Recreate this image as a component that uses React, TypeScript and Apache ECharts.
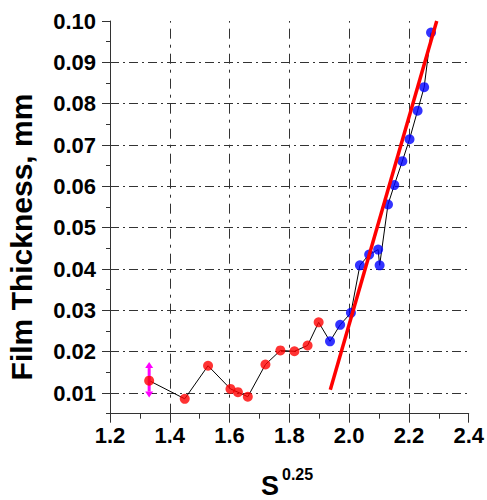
import React, { useEffect, useRef } from 'react';
import * as echarts from 'echarts';

const redX = [1.331, 1.45, 1.528, 1.603, 1.628, 1.661, 1.72, 1.77, 1.817, 1.861, 1.898];
const redY = [0.013, 0.0086, 0.0166, 0.011, 0.0102, 0.0091, 0.0169, 0.0203, 0.0201, 0.0215, 0.0271];
const blueX = [1.936, 1.97, 2.006, 2.036, 2.067, 2.097, 2.102, 2.13, 2.151, 2.178, 2.202, 2.229, 2.251, 2.274];
const blueY = [0.0225, 0.0265, 0.0294, 0.0409, 0.0435, 0.0447, 0.0409, 0.0556, 0.0603, 0.0661, 0.0714, 0.0783, 0.084, 0.0972];
const fitX = [1.937, 2.293];
const fitY = [0.0108, 0.1];
const errX = [1.331];
const errLow = [0.0089];
const errHigh = [0.0175];
const xGridVals = [1.4, 1.6, 1.8, 2.0, 2.2];
const yGridVals = [0.01, 0.02, 0.03, 0.04, 0.05, 0.06, 0.07, 0.08, 0.09];
const yLabelVals = [0.01, 0.02, 0.03, 0.04, 0.05, 0.06, 0.07, 0.08, 0.09, 0.1];

const FONT = 'Liberation Sans';
const AXIS_COLOR = '#333';

export default function App() {
  const ref = useRef<HTMLDivElement>(null);
  useEffect(() => {
    if (!ref.current) return;
    const chart = echarts.init(ref.current, null, { renderer: 'svg' });
    const allPts = [
      ...redX.map((x, i) => [x, redY[i]]),
      ...blueX.map((x, i) => [x, blueY[i]]),
    ];
    const gridLines = [
      ...yGridVals.map((v) => ({
        yAxis: v,
        lineStyle: { color: '#333', width: 1, type: [9, 4, 2, 4] },
      })),
      ...xGridVals.map((v) => ({
        xAxis: v,
        lineStyle: { color: '#333', width: 1, type: [10, 6, 3, 6] },
      })),
    ];
    const labelStyle = {
      fontFamily: FONT,
      fontWeight: 'bold',
      fontSize: 22,
      color: '#000',
    };
    chart.setOption({
      animation: false,
      backgroundColor: '#fff',
      grid: { left: 110, top: 21, right: 17, bottom: 86.3, containLabel: false },
      xAxis: {
        type: 'value',
        min: 1.2,
        max: 2.4,
        interval: 0.2,
        axisLine: { show: true, onZero: false, lineStyle: { color: AXIS_COLOR, width: 1 } },
        axisTick: { show: true, length: 9, lineStyle: { color: AXIS_COLOR } },
        minorTick: { show: true, splitNumber: 2, length: 5, lineStyle: { color: AXIS_COLOR } },
        axisLabel: { ...labelStyle, margin: 11, formatter: (v: number) => v.toFixed(1) },
        splitLine: { show: false },
      },
      yAxis: [
        {
          type: 'value',
          min: 0.005,
          max: 0.1,
          interval: 0.005,
          position: 'left',
          axisLine: { show: true, onZero: false, lineStyle: { color: AXIS_COLOR, width: 1 } },
          axisTick: { show: true, length: 4, lineStyle: { color: AXIS_COLOR } },
          axisLabel: { show: false },
          splitLine: { show: false },
        },
        {
          type: 'value',
          min: 0.005,
          max: 0.1,
          interval: 0.005,
          position: 'left',
          axisLine: { show: false, onZero: false },
          axisTick: { show: true, length: 8, customValues: yLabelVals, lineStyle: { color: AXIS_COLOR } },
          axisLabel: {
            ...labelStyle,
            margin: 14,
            customValues: yLabelVals,
            formatter: (v: number) => (Math.abs(Math.round(v * 1000) % 10) === 0 ? v.toFixed(2) : ''),
          },
          splitLine: { show: false },
        },
      ],
      graphic: [
        {
          type: 'text',
          x: 21,
          y: 237,
          rotation: Math.PI / 2,
          style: {
            text: 'Film Thickness, mm',
            fontFamily: FONT,
            fontWeight: 'bold',
            fontSize: 30,
            fill: '#000',
            align: 'center',
            verticalAlign: 'middle',
          },
        },
        {
          type: 'text',
          x: 261,
          y: 486,
          style: {
            text: 'S',
            fontFamily: FONT,
            fontWeight: 'bold',
            fontSize: 27,
            fill: '#000',
            align: 'left',
            verticalAlign: 'middle',
          },
        },
        {
          type: 'text',
          x: 282,
          y: 474,
          style: {
            text: '0.25',
            fontFamily: FONT,
            fontWeight: 'bold',
            fontSize: 16,
            fill: '#000',
            align: 'left',
            verticalAlign: 'middle',
          },
        },
      ],
      series: [
        {
          type: 'line',
          data: allPts,
          yAxisIndex: 0,
          symbol: 'none',
          lineStyle: { color: '#000', width: 1 },
          z: 2,
          silent: true,
          markLine: {
            silent: true,
            symbol: 'none',
            label: { show: false },
            data: gridLines,
            z: 1,
          },
        },
        {
          type: 'custom',
          yAxisIndex: 0,
          data: errX.map((x, i) => [x, errLow[i], errHigh[i]]),
          encode: { x: 0, y: [1, 2] },
          z: 3,
          renderItem: (params: any, api: any) => {
            const x = api.value(0);
            const lo = api.coord([x, api.value(1)]);
            const hi = api.coord([x, api.value(2)]);
            const w = 4;
            const h = 6;
            return {
              type: 'group',
              children: [
                {
                  type: 'line',
                  shape: { x1: lo[0], y1: lo[1] - h, x2: hi[0], y2: hi[1] + h },
                  style: { stroke: '#ff00ff', lineWidth: 3 },
                },
                {
                  type: 'polygon',
                  shape: { points: [[hi[0], hi[1]], [hi[0] - w, hi[1] + h], [hi[0] + w, hi[1] + h]] },
                  style: { fill: '#ff00ff' },
                },
                {
                  type: 'polygon',
                  shape: { points: [[lo[0], lo[1]], [lo[0] - w, lo[1] - h], [lo[0] + w, lo[1] - h]] },
                  style: { fill: '#ff00ff' },
                },
              ],
            };
          },
        },
        {
          type: 'scatter',
          yAxisIndex: 0,
          data: redX.map((x, i) => [x, redY[i]]),
          symbol: 'circle',
          symbolSize: 10,
          itemStyle: { color: '#ff0000' },
          z: 4,
        },
        {
          type: 'scatter',
          yAxisIndex: 0,
          data: blueX.map((x, i) => [x, blueY[i]]),
          symbol: 'circle',
          symbolSize: 10,
          itemStyle: { color: '#0000ff' },
          z: 4,
        },
        {
          type: 'line',
          yAxisIndex: 0,
          data: fitX.map((x, i) => [x, fitY[i]]),
          symbol: 'none',
          lineStyle: { color: '#ff0000', width: 3.5 },
          z: 5,
        },
      ],
    });
    return () => chart.dispose();
  }, []);
  return (
    <div
      ref={ref}
      style={{ position: 'fixed', left: 0, top: 0, width: 487, height: 500, background: '#fff' }}
    />
  );
}
